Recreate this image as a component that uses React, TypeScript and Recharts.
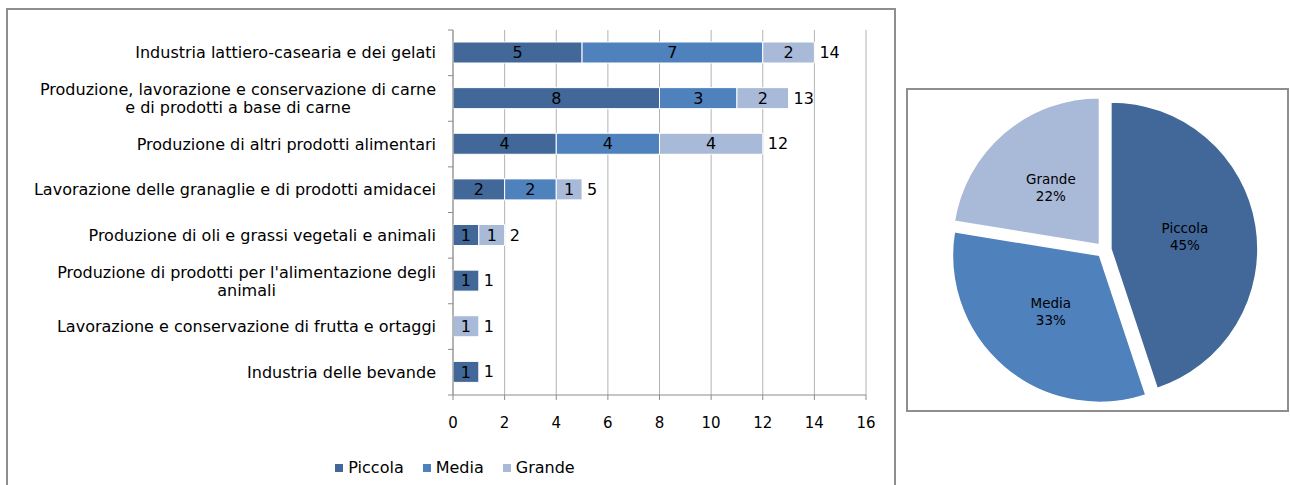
import { Bar, BarChart, CartesianGrid, Cell, LabelList, Legend, Pie, PieChart, XAxis, YAxis } from "recharts";

const categorie = [
  "Industria lattiero-casearia e dei gelati",
  "Produzione, lavorazione e conservazione di carne e di prodotti a base di carne",
  "Produzione di altri prodotti alimentari",
  "Lavorazione delle granaglie e di prodotti amidacei",
  "Produzione di oli e grassi vegetali e animali",
  "Produzione di prodotti per l'alimentazione degli animali",
  "Lavorazione e conservazione di frutta e ortaggi",
  "Industria delle bevande",
];
const piccola = [5, 8, 4, 2, 1, 1, 0, 1];
const media = [7, 3, 4, 2, 0, 0, 0, 0];
const grande = [2, 2, 4, 1, 1, 0, 1, 0];
const xTicks = [0, 2, 4, 6, 8, 10, 12, 14, 16];

const serie = ["Piccola", "Media", "Grande"];
const valori = [piccola, media, grande];
const colori = ["#416899", "#4F81BD", "#A9B9D8"];

const somma = (a: number[]) => a.reduce((s, v) => s + v, 0);

const righe = categorie.map((nome, i) => ({
  nome,
  Piccola: piccola[i],
  Media: media[i],
  Grande: grande[i],
  totale: piccola[i] + media[i] + grande[i],
}));

const torta = [
  { name: "Piccola", value: somma(piccola) },
  { name: "Media", value: somma(media) },
  { name: "Grande", value: somma(grande) },
];

const FONT = '"DejaVu Sans", Verdana, sans-serif';
const RAD = Math.PI / 180;
const ESPLOSO = 7;

// angolo medio di ogni fetta (stessa convenzione di recharts)
const totTorta = somma(torta.map((d) => d.value));
let acc = 0;
const mezzi = torta.map((d) => {
  const m = 90 - (360 * (acc + d.value / 2)) / totTorta;
  acc += d.value;
  return m;
});

let ctx: CanvasRenderingContext2D | null = null;
const misura = (s: string, size: number) => {
  if (!ctx) ctx = document.createElement("canvas").getContext("2d");
  if (!ctx) return s.length * size * 0.55;
  ctx.font = `${size}px "DejaVu Sans"`;
  return ctx.measureText(s).width;
};

const avvolgi = (testo: string, max: number, size: number) => {
  const parole = testo.split(" ");
  const out: string[] = [];
  let cur = "";
  parole.forEach((p) => {
    const prova = cur ? cur + " " + p : p;
    if (cur && misura(prova, size) > max) {
      out.push(cur);
      cur = p;
    } else cur = prova;
  });
  if (cur) out.push(cur);
  return out;
};

const TICK_SIZE = 5;
const TICK_MARGIN = 12;

const CategoryTick = (props: any) => {
  const { x, y, payload, index } = props;
  const size = 16;
  const linee = avvolgi(payload.value, 405, size);
  const w = Math.max(...linee.map((l) => misura(l, size)));
  const centro = x - w / 2;
  const lh = 18;
  const y0 = y - ((linee.length - 1) * lh) / 2;
  const asse = x + TICK_SIZE + TICK_MARGIN;
  const off = payload.offset || 0;
  return (
    <g>
      <text x={centro} y={y0} textAnchor="middle" fontSize={size} fill="#000">
        {linee.map((l, i) => (
          <tspan key={i} x={centro} dy={i === 0 ? "0.35em" : lh}>
            {l}
          </tspan>
        ))}
      </text>
      {off > 0 && (
        <line x1={asse - TICK_SIZE} x2={asse} y1={y - off} y2={y - off} stroke="#8c8c8c" />
      )}
      {off > 0 && index === categorie.length - 1 && (
        <line x1={asse - TICK_SIZE} x2={asse} y1={y + off} y2={y + off} stroke="#8c8c8c" />
      )}
    </g>
  );
};

// totale a destra dell'ultimo segmento non nullo della riga
const etichettaTotale = (k: number) => (p: any) => {
  const i = categorie.indexOf(p.value);
  if (i < 0) return null;
  const ultimo = valori.reduce((u, arr, j) => (arr[i] > 0 ? j : u), -1);
  if (ultimo !== k) return null;
  const x = Number(p.x) + Number(p.width) + 5;
  const y = Number(p.y) + Number(p.height) / 2;
  return (
    <text key={`t${i}`} x={x} y={y} dy="0.35em" fontSize={16} fill="#000">
      {righe[i].totale}
    </text>
  );
};

const Legenda = (props: any) => {
  const voci = [...(props.payload || [])].sort(
    (a: any, b: any) => serie.indexOf(a.value) - serie.indexOf(b.value)
  );
  return (
    <div
      style={{
        width: 866,
        paddingLeft: 44,
        boxSizing: "border-box",
        textAlign: "center",
        fontSize: 16,
        lineHeight: "19px",
        height: 19,
        color: "#000",
      }}
    >
      {voci.map((v: any, i: number) => (
        <span key={v.value} style={{ marginLeft: i === 0 ? 0 : 19, whiteSpace: "nowrap" }}>
          <span
            style={{
              display: "inline-block",
              width: 8,
              height: 8,
              background: v.color,
              marginRight: 5,
              verticalAlign: "1px",
            }}
          />
          {v.value}
        </span>
      ))}
    </div>
  );
};

const EtichettaTorta = (p: any) => {
  const r = p.outerRadius * 0.51;
  const x = p.cx + r * Math.cos(-p.midAngle * RAD);
  const y = p.cy + r * Math.sin(-p.midAngle * RAD);
  return (
    <text x={x} y={y} textAnchor="middle" fontSize={13.5} fill="#000">
      <tspan x={x} dy={-4}>
        {p.name}
      </tspan>
      <tspan x={x} dy={17}>
        {Math.round(p.percent * 100)}%
      </tspan>
    </text>
  );
};

export default function App() {
  return (
    <div style={{ position: "relative", width: 1290, height: 485, overflow: "hidden", fontFamily: FONT, background: "#fff" }}>
      <style>{"body{margin:0}"}</style>
      <div
        style={{
          position: "absolute",
          left: 6,
          top: 8,
          width: 890,
          height: 520,
          border: "2px solid #8e8e8e",
          boxSizing: "border-box",
        }}
      />
      <div style={{ position: "absolute", left: 0, top: 0 }}>
        <BarChart
          width={900}
          height={485}
          data={righe}
          layout="vertical"
          margin={{ top: 30, right: 34, bottom: 8, left: 0 }}
        >
          <CartesianGrid horizontal={false} stroke="#b3b3b3" />
          <XAxis
            type="number"
            domain={[0, 16]}
            ticks={xTicks}
            stroke="#8c8c8c"
            tick={{ fill: "#000", fontSize: 15 }}
            tickSize={5}
            tickMargin={17}
            height={63}
          />
          <YAxis
            type="category"
            dataKey="nome"
            width={453}
            stroke="#8c8c8c"
            tickLine={false}
            tickSize={TICK_SIZE}
            tickMargin={TICK_MARGIN}
            tick={<CategoryTick />}
            interval={0}
          />
          <Legend verticalAlign="bottom" content={<Legenda />} />
          {serie.map((s, k) => (
            <Bar
              key={s}
              dataKey={s}
              stackId="a"
              fill={colori[k]}
              stroke="#fff"
              strokeWidth={1}
              barSize={21}
              isAnimationActive={false}
            >
              <LabelList
                dataKey={s}
                position="center"
                fill="#000"
                fontSize={16}
                formatter={(v: any) => (v ? v : "")}
              />
              <LabelList dataKey="nome" content={etichettaTotale(k)} />
            </Bar>
          ))}
        </BarChart>
      </div>
      <div
        style={{
          position: "absolute",
          left: 906,
          top: 88,
          width: 383,
          height: 324,
          border: "2px solid #8e8e8e",
          boxSizing: "border-box",
        }}
      >
        <PieChart width={379} height={320}>
          {torta.map((fetta, k) => (
            <Pie
              key={fetta.name}
              data={torta}
              dataKey="value"
              nameKey="name"
              cx={191 + ESPLOSO * Math.cos(mezzi[k] * RAD)}
              cy={155 - ESPLOSO * Math.sin(mezzi[k] * RAD)}
              outerRadius={147}
              startAngle={90}
              endAngle={-270}
              isAnimationActive={false}
              labelLine={false}
              label={(p: any) => (p.index === k ? <EtichettaTorta {...p} /> : null)}
            >
              {torta.map((d, i) => (
                <Cell
                  key={d.name}
                  fill={i === k ? colori[i] : "none"}
                  stroke={i === k ? "#fff" : "none"}
                  strokeWidth={1.5}
                />
              ))}
            </Pie>
          ))}
        </PieChart>
      </div>
    </div>
  );
}
